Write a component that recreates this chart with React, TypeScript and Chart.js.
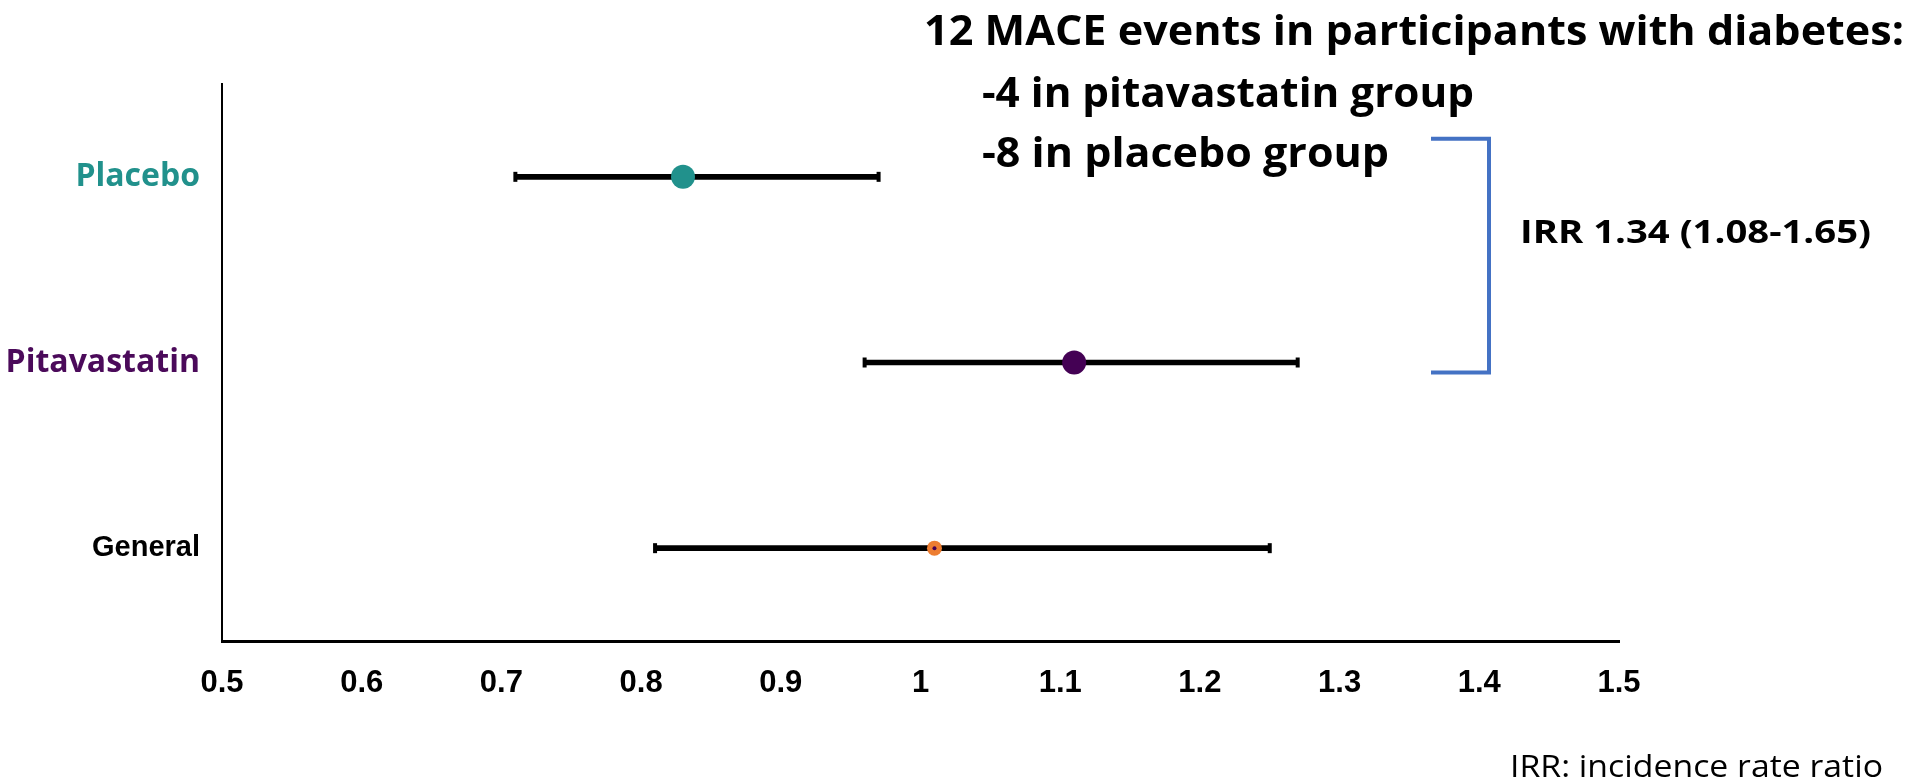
import React, { useEffect, useRef } from 'react';
import { Chart, registerables } from 'chart.js';

Chart.register(...registerables);

// Forest plot data: incidence rate estimates with 95% confidence intervals
const groups = ['Placebo', 'Pitavastatin', 'General'];
const estimates = [0.83, 1.11, 1.01];
const lowerCI = [0.71, 0.96, 0.81];
const upperCI = [0.97, 1.27, 1.25];
const xTickLabels = ['0.5', '0.6', '0.7', '0.8', '0.9', '1', '1.1', '1.2', '1.3', '1.4', '1.5'];

const markerColors = ['#21918c', '#440154', '#ed7d31'];
const labelColors = ['#21918c', '#4b0a5a', '#000000'];
const markerRadii = [12, 12, 7.5];

const summaryLines = [
  '12 MACE events in participants with diabetes:',
  '-4 in pitavastatin group',
  '-8 in placebo group',
];
const irrText = 'IRR 1.34 (1.08-1.65)';
const footnote = 'IRR: incidence rate ratio';

const HEADING_FONT = '"Open Sans", "Noto Sans", sans-serif';

// Draws text between a left and right edge, squeezing/stretching horizontally to fit.
function drawFitted(
  ctx: CanvasRenderingContext2D,
  text: string,
  left: number,
  right: number,
  baseline: number,
  font: string,
  color: string
) {
  ctx.save();
  ctx.font = font;
  ctx.fillStyle = color;
  ctx.textAlign = 'left';
  ctx.textBaseline = 'alphabetic';
  const w = ctx.measureText(text).width;
  ctx.translate(left, baseline);
  ctx.scale((right - left) / w, 1);
  ctx.fillText(text, 0, 0);
  ctx.restore();
}

const annotationPlugin = {
  id: 'summaryAnnotations',
  afterDraw(chart: any) {
    const ctx: CanvasRenderingContext2D = chart.ctx;
    const y = chart.scales.y;

    drawFitted(ctx, summaryLines[0], 924, 1904, 45, `bold 42px ${HEADING_FONT}`, '#000');
    drawFitted(ctx, summaryLines[1], 982, 1474, 107, `bold 42px ${HEADING_FONT}`, '#000');
    drawFitted(ctx, summaryLines[2], 982, 1389, 167, `bold 42px ${HEADING_FONT}`, '#000');

    // Bracket joining the placebo and pitavastatin rows
    const top = y.getPixelForValue(0) - 38;
    const bottom = y.getPixelForValue(1) + 10;
    ctx.save();
    ctx.strokeStyle = '#4472c4';
    ctx.lineWidth = 4;
    ctx.lineJoin = 'miter';
    ctx.beginPath();
    ctx.moveTo(1431, top);
    ctx.lineTo(1489, top);
    ctx.lineTo(1489, bottom);
    ctx.lineTo(1431, bottom);
    ctx.stroke();
    ctx.restore();

    drawFitted(ctx, irrText, 1520, 1871, 243, `bold 32px ${HEADING_FONT}`, '#000');
    drawFitted(ctx, footnote, 1510, 1883, 777, `31px ${HEADING_FONT}`, '#000');
  },
};

export default function App() {
  const canvasRef = useRef<HTMLCanvasElement | null>(null);

  useEffect(() => {
    if (!canvasRef.current) return;

    const intervals = lowerCI.map((lo, i) => [lo, upperCI[i]]);
    const caps = [
      ...lowerCI.map((v, i) => ({ x: v, y: groups[i] })),
      ...upperCI.map((v, i) => ({ x: v, y: groups[i] })),
    ];
    const points = estimates.map((v, i) => ({ x: v, y: groups[i] }));

    const chart = new Chart(canvasRef.current, {
      type: 'bar',
      data: {
        labels: groups,
        datasets: [
          {
            type: 'scatter',
            label: 'centre',
            data: [points[2]],
            pointRadius: 2,
            pointBackgroundColor: '#440154',
            pointBorderWidth: 0,
            order: 0,
          } as any,
          {
            type: 'scatter',
            label: 'estimate',
            data: points,
            pointRadius: markerRadii,
            pointBackgroundColor: markerColors,
            pointBorderWidth: 0,
            order: 1,
          } as any,
          {
            type: 'scatter',
            label: 'caps',
            data: caps,
            pointStyle: 'line',
            pointRotation: 90,
            pointRadius: 5,
            pointBorderWidth: 4,
            pointBorderColor: '#000',
            order: 2,
          } as any,
          {
            type: 'bar',
            label: 'interval',
            data: intervals,
            backgroundColor: '#000',
            borderWidth: 0,
            barThickness: 5,
            order: 3,
          } as any,
        ],
      },
      options: {
        indexAxis: 'y',
        animation: false,
        responsive: true,
        maintainAspectRatio: false,
        events: [],
        layout: { padding: { top: 84, right: 310, bottom: 0, left: 0 } },
        plugins: {
          legend: { display: false },
          tooltip: { enabled: false },
        },
        scales: {
          x: {
            type: 'linear',
            min: 0.5,
            max: 1.5,
            grid: { display: false, drawTicks: false },
            border: { display: true, color: '#000', width: 3 },
            ticks: {
              stepSize: 0.1,
              padding: 24,
              color: '#000',
              font: { family: '"Liberation Sans", Arial, sans-serif', weight: 'bold', size: 31 },
              callback: (_v: any, index: number) => xTickLabels[index],
            },
            afterFit: (scale: any) => {
              scale.height = 142;
            },
          },
          y: {
            type: 'category',
            grid: { display: false, drawTicks: false },
            border: { display: true, color: '#000', width: 2 },
            ticks: {
              padding: 22,
              color: (c: any) => labelColors[c.index],
              font: (c: any) =>
                c.index === 2
                  ? { family: '"Liberation Sans", Arial, sans-serif', weight: 'bold', size: 29 }
                  : { family: HEADING_FONT, weight: 'bold', size: 32 },
            },
            afterFit: (scale: any) => {
              scale.width = 222;
            },
          },
        },
      } as any,
      plugins: [annotationPlugin],
    });

    return () => chart.destroy();
  }, []);

  return (
    <div style={{ position: 'fixed', left: 0, top: 0, width: 1929, height: 783, background: '#fff' }}>
      <canvas ref={canvasRef} />
    </div>
  );
}
